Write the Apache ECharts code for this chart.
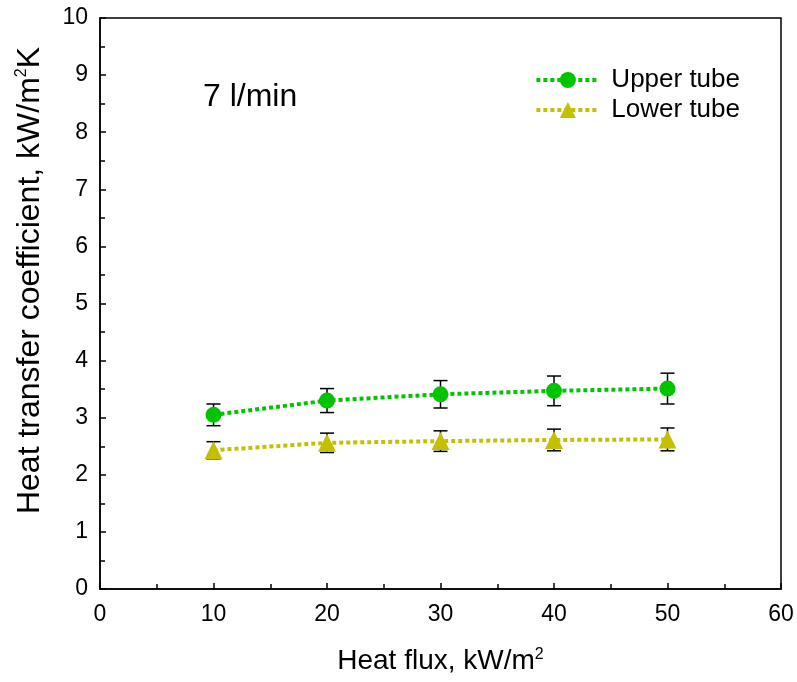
<!DOCTYPE html>
<html><head><meta charset="utf-8">
<script src="https://cdn.jsdelivr.net/npm/echarts@6/dist/echarts.min.js"></script>
<style>html,body{margin:0;padding:0;background:#fff}#c{width:797px;height:682px}</style>
</head><body><div id="c"></div>
<script>
const heatFlux = [10, 20, 30, 40, 50];
const upperTube = [3.05, 3.30, 3.41, 3.47, 3.51];
const upperErr = [0.19, 0.21, 0.24, 0.26, 0.27];
const lowerTube = [2.43, 2.56, 2.59, 2.61, 2.62];
const lowerErr = [0.15, 0.17, 0.18, 0.19, 0.20];

const FONT = 'Liberation Sans';
const chart = echarts.init(document.getElementById('c'));

function errData(vals, errs) {
  return heatFlux.map((x, i) => [x, vals[i] - errs[i], vals[i] + errs[i]]);
}
function errRender(params, api) {
  const x = api.value(0);
  const lo = api.coord([x, api.value(1)]);
  const hi = api.coord([x, api.value(2)]);
  const w = 7;
  const st = { stroke: '#000', lineWidth: 1.5 };
  return { type: 'group', children: [
    { type: 'line', shape: { x1: lo[0], y1: lo[1], x2: hi[0], y2: hi[1] }, style: st },
    { type: 'line', shape: { x1: lo[0] - w, y1: lo[1], x2: lo[0] + w, y2: lo[1] }, style: st },
    { type: 'line', shape: { x1: hi[0] - w, y1: hi[1], x2: hi[0] + w, y2: hi[1] }, style: st }
  ]};
}

const axisLabel = { color: '#000', fontFamily: FONT, fontSize: 23 };
const supStyle = { fontFamily: FONT, fontSize: 16, color: '#000', verticalAlign: 'top', lineHeight: 16 };
chart.setOption({
  animation: false,
  grid: { left: 100, right: 16, top: 18, bottom: 93, show: true, borderColor: '#000', borderWidth: 1.5 },
  legend: {
    right: 52, top: 62, orient: 'vertical', itemWidth: 63, itemHeight: 20, itemGap: 4,
    textStyle: { fontFamily: FONT, fontSize: 26, color: '#000', padding: [0, 0, 0, 7] },
    lineStyle: { width: 4, type: [4, 3] },
    data: ['Upper tube', 'Lower tube']
  },
  graphic: [{ type: 'text', left: 203, top: 81, style: { text: '7 l/min', fontFamily: FONT, fontSize: 32, fill: '#000' } }],
  xAxis: {
    type: 'value', min: 0, max: 60, interval: 10,
    name: 'Heat flux, kW/m{sup|2}', nameLocation: 'middle', nameGap: 58,
    nameTextStyle: { fontFamily: FONT, fontSize: 28, color: '#000', rich: { sup: supStyle } },
    axisLine: { lineStyle: { color: '#000', width: 1.5 } },
    axisTick: { inside: true, length: 6, lineStyle: { color: '#000', width: 1.5 } },
    minorTick: { show: true, splitNumber: 2, length: 5, lineStyle: { color: '#000', width: 1.5 } },
    axisLabel: Object.assign({ margin: 14 }, axisLabel),
    splitLine: { show: false }
  },
  yAxis: {
    type: 'value', min: 0, max: 10, interval: 1,
    name: 'Heat transfer coefficient, kW/m{sup|2}K', nameLocation: 'middle', nameGap: 54,
    nameTextStyle: { fontFamily: FONT, fontSize: 32, color: '#000', padding: [0, 0, 0, 46], rich: { sup: supStyle } },
    axisLine: { lineStyle: { color: '#000', width: 1.5 } },
    axisTick: { inside: true, length: 6, lineStyle: { color: '#000', width: 1.5 } },
    minorTick: { show: true, splitNumber: 2, length: 5, lineStyle: { color: '#000', width: 1.5 } },
    axisLabel: Object.assign({ margin: 12 }, axisLabel),
    splitLine: { show: false }
  },
  series: [
    { type: 'custom', name: 'upErr', renderItem: errRender, data: errData(upperTube, upperErr), z: 1, silent: true },
    { type: 'custom', name: 'loErr', renderItem: errRender, data: errData(lowerTube, lowerErr), z: 1, silent: true },
    { type: 'line', name: 'Upper tube', data: heatFlux.map((x, i) => [x, upperTube[i]]), z: 3,
      symbol: 'circle', symbolSize: 16, itemStyle: { color: '#00c400' },
      lineStyle: { color: '#00c400', width: 4, type: [4, 3] } },
    { type: 'line', name: 'Lower tube', data: heatFlux.map((x, i) => [x, lowerTube[i]]), z: 3,
      symbol: 'triangle', symbolSize: 18, itemStyle: { color: '#c4c000' },
      lineStyle: { color: '#c4c000', width: 4, type: [4, 3] } }
  ]
});
</script></body></html>
